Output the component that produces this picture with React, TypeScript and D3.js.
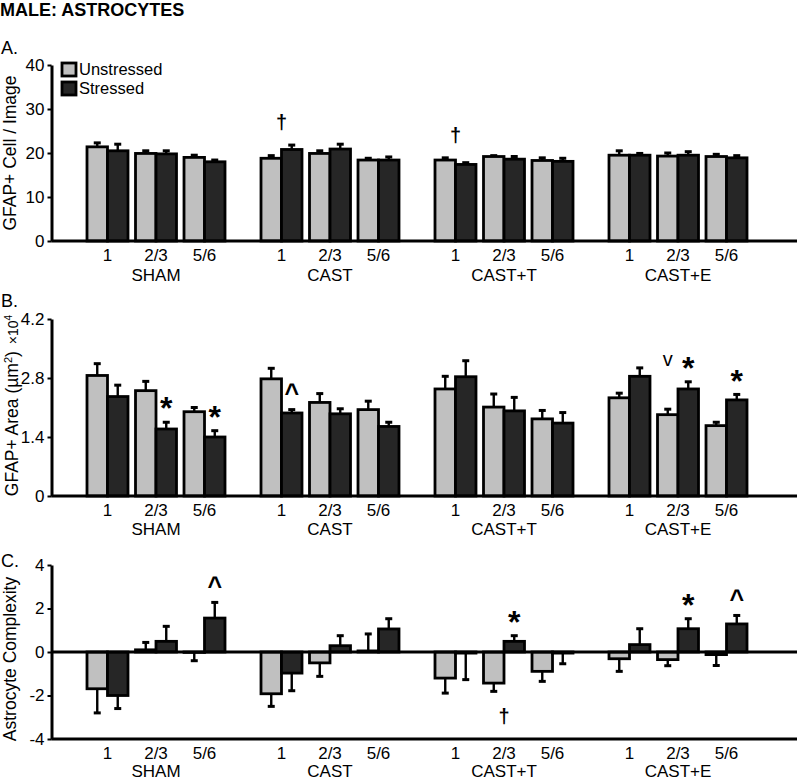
import React, { useEffect, useRef } from 'react';
import * as d3 from 'd3';

// categories
const groups = ["SHAM", "CAST", "CAST+T", "CAST+E"];
const sessions = ["1", "2/3", "5/6"];
const seriesNames = ["Unstressed", "Stressed"];

// A. GFAP+ cells per image (order: group x session)
const cellsUnstressed = [21.4, 19.9, 19.0, 18.8, 19.9, 18.4, 18.4, 19.2, 18.3, 19.5, 19.3, 19.2];
const cellsUnstressedErr = [0.9, 0.6, 0.5, 0.6, 0.6, 0.4, 0.5, 0.2, 0.6, 1.0, 0.7, 0.5];
const cellsStressed = [20.5, 19.8, 18.0, 20.8, 20.9, 18.4, 17.4, 18.6, 18.1, 19.5, 19.5, 18.9];
const cellsStressedErr = [1.5, 0.7, 0.4, 1.0, 1.1, 0.7, 0.4, 0.6, 0.7, 0.4, 0.8, 0.5];
const cellTicks = [0, 10, 20, 30, 40];
const cellTickLabels = ["0", "10", "20", "30", "40"];

// B. GFAP+ area (x10^4 um^2)
const areaUnstressed = [2.86, 2.50, 2.00, 2.78, 2.22, 2.05, 2.54, 2.11, 1.83, 2.33, 1.93, 1.67];
const areaUnstressedErr = [0.28, 0.22, 0.10, 0.25, 0.21, 0.20, 0.30, 0.31, 0.20, 0.11, 0.13, 0.08];
const areaStressed = [2.36, 1.59, 1.40, 1.97, 1.95, 1.65, 2.83, 2.02, 1.73, 2.84, 2.54, 2.28];
const areaStressedErr = [0.27, 0.16, 0.15, 0.08, 0.12, 0.10, 0.38, 0.32, 0.25, 0.20, 0.17, 0.13];
const areaTicks = [0, 1.4, 2.8, 4.2];
const areaTickLabels = ["0", "1.4", "2.8", "4.2"];

// C. astrocyte complexity
const complexityUnstressed = [-1.69, 0.10, -0.02, -1.92, -0.50, 0.05, -1.20, -1.43, -0.89, -0.31, -0.35, -0.12];
const complexityUnstressedErr = [1.11, 0.34, 0.38, 0.58, 0.62, 0.78, 0.69, 0.38, 0.46, 0.58, 0.28, 0.50];
const complexityStressed = [-2.0, 0.49, 1.56, -0.97, 0.29, 1.06, -0.05, 0.49, -0.05, 0.34, 1.07, 1.29];
const complexityStressedErr = [0.6, 0.69, 0.72, 0.81, 0.46, 0.47, 1.22, 0.26, 0.49, 0.73, 0.46, 0.39];
const complexityTicks = [-4, -2, 0, 2, 4];
const complexityTickLabels = ["-4", "-2", "0", "2", "4"];

// significance marks: series null = centred on the pair
const cellMarks = [
  { group: "CAST", session: "1", series: null, level: "pair", side: "above", symbol: "†" },
  { group: "CAST+T", session: "1", series: null, level: "pair", side: "above", symbol: "†" },
];
const areaMarks = [
  { group: "SHAM", session: "2/3", series: "Stressed", level: "bar", side: "above", symbol: "*" },
  { group: "SHAM", session: "5/6", series: "Stressed", level: "bar", side: "above", symbol: "*" },
  { group: "CAST", session: "1", series: "Stressed", level: "bar", side: "above", symbol: "^" },
  { group: "CAST+E", session: "2/3", series: "Unstressed", level: "pair", side: "above", symbol: "v" },
  { group: "CAST+E", session: "2/3", series: "Stressed", level: "bar", side: "above", symbol: "*" },
  { group: "CAST+E", session: "5/6", series: "Stressed", level: "bar", side: "above", symbol: "*" },
];
const complexityMarks = [
  { group: "SHAM", session: "5/6", series: "Stressed", level: "bar", side: "above", symbol: "^" },
  { group: "CAST+T", session: "2/3", series: "Stressed", level: "bar", side: "above", symbol: "*" },
  { group: "CAST+T", session: "2/3", series: null, level: "pair", side: "below", symbol: "†" },
  { group: "CAST+E", session: "2/3", series: "Stressed", level: "bar", side: "above", symbol: "*" },
  { group: "CAST+E", session: "5/6", series: "Stressed", level: "bar", side: "above", symbol: "^" },
];

const FONT = "'Liberation Sans', Arial, Helvetica, sans-serif";
const colors = { Unstressed: "#c0c0c0", Stressed: "#262626" };

// glyph settings: size, weight, and how far the glyph centre sits above the baseline (em)
const glyphs = {
  "*": { size: 32, weight: "bold", lift: 0.57 },
  "^": { size: 25, weight: "bold", lift: 0.53 },
  "†": { size: 20, weight: "bold", lift: 0.27 },
  "v": { size: 20, weight: "normal", lift: 0.26 },
};

const App = () => {
  const ref = useRef(null);

  useEffect(() => {
    const svg = d3.select(ref.current);
    svg.selectAll("*").remove();

    const axisX = 51.5, rightX = 797;

    const x0 = d3.scaleBand().domain(groups).range([69, 765]);
    const x1 = d3.scaleBand().domain(sessions).range([18, 156]).paddingInner(0.155);
    const x2 = d3.scaleBand().domain(seriesNames).range([0, x1.bandwidth()]);

    // title
    svg.append("text")
      .attr("x", 0).attr("y", 16)
      .style("font-family", FONT).style("font-size", "18px").style("font-weight", "bold")
      .text("MALE: ASTROCYTES");

    const drawPanel = (cfg) => {
      const y = d3.scaleLinear().domain(cfg.domain).range([cfg.bottom, cfg.top]);
      const g = svg.append("g");

      const rows = [];
      groups.forEach((gr, gi) => sessions.forEach((se, si) => {
        const i = gi * sessions.length + si;
        rows.push({ group: gr, session: se, series: "Unstressed", value: cfg.unst[i], err: cfg.unstErr[i] });
        rows.push({ group: gr, session: se, series: "Stressed", value: cfg.st[i], err: cfg.stErr[i] });
      }));
      const barX = d => x0(d.group) + x1(d.session) + x2(d.series);
      const barC = d => barX(d) + x2.bandwidth() / 2;
      const errEnd = d => d.value + (d.value >= 0 ? 1 : -1) * d.err;

      // error bars
      const eb = g.append("g").attr("stroke", "#000");
      eb.selectAll("line.stem").data(rows).join("line")
        .attr("class", "stem")
        .attr("x1", barC).attr("x2", barC)
        .attr("y1", d => y(d.value)).attr("y2", d => y(errEnd(d)))
        .attr("stroke-width", 2.4);
      eb.selectAll("line.cap").data(rows).join("line")
        .attr("class", "cap")
        .attr("x1", d => barC(d) - 3.5).attr("x2", d => barC(d) + 3.5)
        .attr("y1", d => y(errEnd(d))).attr("y2", d => y(errEnd(d)))
        .attr("stroke-width", 3);

      // bars
      g.append("g").selectAll("rect").data(rows).join("rect")
        .attr("x", barX)
        .attr("width", x2.bandwidth())
        .attr("y", d => Math.min(y(d.value), y(0)))
        .attr("height", d => Math.abs(y(d.value) - y(0)))
        .attr("fill", d => colors[d.series])
        .attr("stroke", "#000")
        .attr("stroke-width", 2.8);

      // zero / bottom lines
      g.append("line").attr("x1", axisX).attr("x2", rightX)
        .attr("y1", y(cfg.domain[0])).attr("y2", y(cfg.domain[0]))
        .attr("stroke", "#000").attr("stroke-width", 3);
      if (cfg.domain[0] < 0) {
        g.append("line").attr("x1", axisX).attr("x2", rightX)
          .attr("y1", y(0)).attr("y2", y(0))
          .attr("stroke", "#000").attr("stroke-width", 3);
      }

      // y axis
      const ax = g.append("g")
        .attr("transform", `translate(${axisX},0)`)
        .call(d3.axisLeft(y).tickValues(cfg.ticks).tickSize(4).tickSizeOuter(0).tickPadding(3)
          .tickFormat((d, i) => cfg.tickLabels[i]));
      ax.select(".domain").attr("stroke-width", 3);
      ax.selectAll(".tick line").attr("stroke-width", 2);
      ax.selectAll(".tick text").style("font-family", FONT).style("font-size", "17px").attr("fill", "#000");

      // category labels
      const cats = [];
      groups.forEach(gr => sessions.forEach(se => cats.push({ group: gr, session: se })));
      g.selectAll("text.sess").data(cats).join("text")
        .attr("class", "sess")
        .attr("x", d => x0(d.group) + x1(d.session) + x1.bandwidth() / 2)
        .attr("y", cfg.bottom + 20)
        .attr("text-anchor", "middle")
        .style("font-family", FONT).style("font-size", "17px")
        .text(d => d.session);
      g.selectAll("text.grp").data(groups).join("text")
        .attr("class", "grp")
        .attr("x", d => x0(d) + x0.bandwidth() / 2)
        .attr("y", cfg.bottom + cfg.groupGap)
        .attr("text-anchor", "middle")
        .style("font-family", FONT).style("font-size", "17px")
        .text(d => d);

      // panel letter
      g.append("text").attr("x", 1).attr("y", cfg.letterY)
        .style("font-family", FONT).style("font-size", "18px")
        .text(cfg.letter);

      // y label
      const yl = g.append("text")
        .attr("transform", `translate(${cfg.labelX},${(cfg.top + cfg.bottom) / 2 + cfg.labelShift}) rotate(-90)`)
        .attr("text-anchor", "middle")
        .style("font-family", FONT).style("font-size", "17.5px");
      cfg.yLabel(yl);

      // marks
      cfg.marks.forEach(m => {
        const pair = rows.filter(r => r.group === m.group && r.session === m.session);
        const own = m.series ? pair.filter(r => r.series === m.series) : pair;
        const pool = m.level === "pair" ? pair : own;
        const px = pool.flatMap(r => [y(r.value), y(errEnd(r)), y(0)]);
        const cx = m.series ? barC(own[0]) : x0(m.group) + x1(m.session) + x1.bandwidth() / 2;
        const cy = m.side === "above" ? d3.min(px) - 21 : d3.max(px) + 26;
        const gs = glyphs[m.symbol];
        g.append("text")
          .attr("x", cx).attr("y", cy + gs.lift * gs.size)
          .attr("text-anchor", "middle")
          .style("font-family", FONT).style("font-size", `${gs.size}px`).style("font-weight", gs.weight)
          .text(m.symbol);
      });
    };

    drawPanel({
      top: 65, bottom: 241, domain: [0, 40], ticks: cellTicks, tickLabels: cellTickLabels,
      unst: cellsUnstressed, unstErr: cellsUnstressedErr, st: cellsStressed, stErr: cellsStressedErr,
      marks: cellMarks, letter: "A.", letterY: 54, groupGap: 40, labelShift: 0, labelX: 16,
      yLabel: t => t.text("GFAP+ Cell / Image"),
    });
    drawPanel({
      top: 319, bottom: 496, domain: [0, 4.2], ticks: areaTicks, tickLabels: areaTickLabels,
      unst: areaUnstressed, unstErr: areaUnstressedErr, st: areaStressed, stErr: areaStressedErr,
      marks: areaMarks, letter: "B.", letterY: 307, groupGap: 39, labelShift: -2, labelX: 18,
      yLabel: t => {
        t.append("tspan").text("GFAP+ Area (µm");
        t.append("tspan").attr("dy", -6).style("font-size", "11px").text("2");
        t.append("tspan").attr("dy", 6).text(")");
        t.append("tspan").attr("dx", 7).style("font-size", "14px").text("×10");
        t.append("tspan").attr("dy", -6).style("font-size", "10px").text("4");
      },
    });
    drawPanel({
      top: 565, bottom: 739, domain: [-4, 4], ticks: complexityTicks, tickLabels: complexityTickLabels,
      unst: complexityUnstressed, unstErr: complexityUnstressedErr, st: complexityStressed, stErr: complexityStressedErr,
      marks: complexityMarks, letter: "C.", letterY: 567, groupGap: 38, labelShift: 7, labelX: 16,
      yLabel: t => t.text("Astrocyte Complexity"),
    });

    // legend
    const lg = svg.append("g").attr("transform", "translate(61,62)");
    seriesNames.forEach((s, i) => {
      lg.append("rect").attr("x", 1).attr("y", i * 19 + 1).attr("width", 14).attr("height", 13)
        .attr("fill", colors[s]).attr("stroke", "#000").attr("stroke-width", 2.8);
      lg.append("text").attr("x", 18).attr("y", i * 19 + 13)
        .style("font-family", FONT).style("font-size", "16.5px").text(s);
    });
  }, []);

  return (
    <svg ref={ref} width={800} height={781}
      style={{ position: "absolute", left: 0, top: 0, background: "#fff" }} />
  );
};

export default App;
